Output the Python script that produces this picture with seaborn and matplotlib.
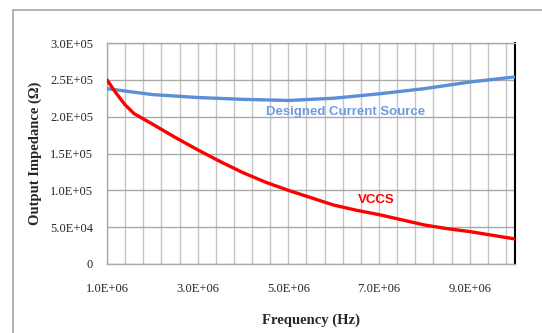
import matplotlib
matplotlib.use("Agg")
import matplotlib.pyplot as plt
import seaborn as sns
import pandas as pd
import numpy as np
from matplotlib.patches import Rectangle
from matplotlib.ticker import FixedLocator, FixedFormatter

# ---- data ----
freq_designed = [1.0e6, 2.0e6, 3.0e6, 4.0e6, 5.0e6, 6.0e6, 7.0e6, 8.0e6, 9.0e6, 1.0e7]
z_designed = [2.38e5, 2.30e5, 2.26e5, 2.235e5, 2.22e5, 2.25e5, 2.31e5, 2.38e5, 2.47e5, 2.54e5]

freq_vccs = [1.0e6, 1.2e6, 1.4e6, 1.6e6, 1.8e6, 2.0e6, 2.5e6, 3.0e6, 3.5e6, 4.0e6, 4.5e6,
             5.0e6, 5.5e6, 6.0e6, 6.5e6, 7.0e6, 7.5e6, 8.0e6, 8.5e6, 9.0e6, 9.5e6, 1.0e7]
z_vccs = [2.50e5, 2.32e5, 2.16e5, 2.04e5, 1.97e5, 1.90e5, 1.72e5, 1.55e5, 1.39e5, 1.24e5, 1.11e5,
          1.00e5, 9.0e4, 8.0e4, 7.3e4, 6.7e4, 6.0e4, 5.3e4, 4.8e4, 4.4e4, 3.9e4, 3.4e4]

xtick_values = [1.0e6, 3.0e6, 5.0e6, 7.0e6, 9.0e6]
xtick_labels = ["1.0E+06", "3.0E+06", "5.0E+06", "7.0E+06", "9.0E+06"]
ytick_values = [0, 5.0e4, 1.0e5, 1.5e5, 2.0e5, 2.5e5, 3.0e5]
ytick_labels = ["0", "5.0E+04", "1.0E+05", "1.5E+05", "2.0E+05", "2.5E+05", "3.0E+05"]

df_d = pd.DataFrame({"f": freq_designed, "z": z_designed})
df_v = pd.DataFrame({"f": freq_vccs, "z": z_vccs})

sns.set_style("white")
plt.rcParams["font.family"] = ["Liberation Serif", "DejaVu Serif"]

fig = plt.figure(figsize=(5.42, 3.33), dpi=100)
fig.patches.append(Rectangle((13 / 542, -0.1), 1.2, (333 - 10) / 333 + 0.1,
                             transform=fig.transFigure, fill=False,
                             edgecolor="#a6a6a6", linewidth=1.2, zorder=0))
ax = fig.add_axes([107 / 542, (333 - 264) / 333, (515 - 107) / 542, (264 - 43) / 333])

ax.set_xlim(1.0e6, 1.0e7)
ax.set_ylim(0, 3.0e5)

ax.xaxis.set_major_locator(FixedLocator(xtick_values))
ax.xaxis.set_major_formatter(FixedFormatter(xtick_labels))
ax.xaxis.set_minor_locator(FixedLocator(np.arange(1.0e6, 1.0e7 + 1, 4.0e5)))
ax.yaxis.set_major_locator(FixedLocator(ytick_values))
ax.yaxis.set_major_formatter(FixedFormatter(ytick_labels))

ax.grid(True, which="major", axis="y", color="#a9a9a9", linewidth=1.0)
ax.grid(True, which="both", axis="x", color="#c4c4c4", linewidth=1.0)
ax.set_axisbelow(True)

sns.lineplot(data=df_d, x="f", y="z", ax=ax, color="#5b8fd8", linewidth=2.4, zorder=3)
sns.lineplot(data=df_v, x="f", y="z", ax=ax, color="#ff0000", linewidth=2.4, zorder=4)

for s in ["left", "bottom", "top"]:
    ax.spines[s].set_color("#a9a9a9")
    ax.spines[s].set_linewidth(1.0)
ax.spines["right"].set_color("black")
ax.spines["right"].set_linewidth(1.5)

ax.tick_params(axis="x", which="major", direction="out", length=4, color="#808080",
               labelsize=9, pad=10)
ax.tick_params(axis="x", which="minor", length=0)
ax.tick_params(axis="y", which="major", length=0, labelsize=9, pad=10)

ax.set_xlabel("Frequency (Hz)", fontsize=10.5, fontweight="bold", labelpad=13)
ax.set_ylabel("Output Impedance (\u03a9)", fontsize=10.5, fontweight="bold", labelpad=6)

ax.text(346, 333 - 112, "Designed Current Source", transform=None,
        fontsize=9.5, fontweight="bold", color="#6f9ce0", ha="center", va="center",
        family=["Liberation Sans", "DejaVu Sans"])
ax.text(376, 333 - 200, "VCCS", transform=None,
        fontsize=9.5, fontweight="bold", color="#ff0000", ha="center", va="center",
        family=["Liberation Sans", "DejaVu Sans"])

fig.savefig("out.png", dpi=100)
